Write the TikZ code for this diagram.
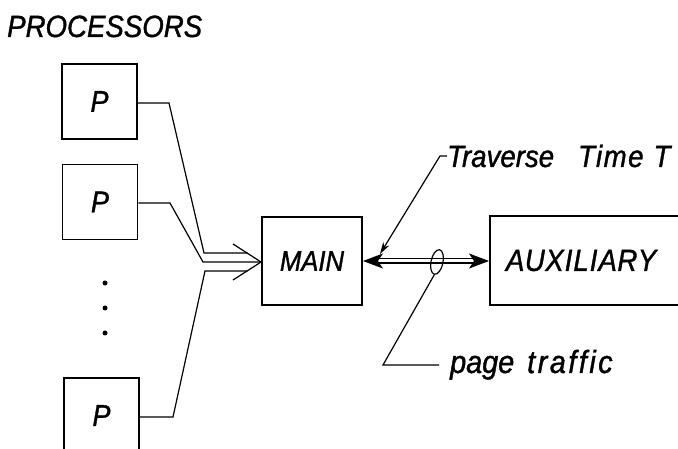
\documentclass[tikz,border=0pt]{standalone}
\usepackage{fontspec}
\setmainfont{Liberation Sans}[FakeStretch=0.9,FakeBold=1.2]
\usetikzlibrary{arrows.meta,shapes.geometric}
\tikzset{
  box/.style={draw, line width=1.9pt, inner sep=0pt, font=\itshape\fontsize{28.5}{30}\selectfont},
  pbox/.style={box, minimum width=75pt, minimum height=75pt, font=\itshape\fontsize{30}{32}\selectfont},
  conn/.style={line width=1.2pt},
  lbl/.style={inner sep=0pt, anchor=base west, font=\itshape\fontsize{30.7}{32}\selectfont},
  bigtip/.style={line width=1.4pt, -{Stealth[length=20pt,width=15pt,inset=5pt]}},
}
\begin{document}
\begin{tikzpicture}[x=1pt,y=-1pt]
\clip (0,0) rectangle (678,449);
\fill[white] (0,0) rectangle (678,449);
% title
\node[lbl] (title) at (7,37) {PROCESSORS};
% processor boxes
\node[pbox] (p1) at (99.5,101.5) {P};
\node[pbox] (p2) at (100,202) {P};
\node[pbox] (p3) at (101.5,415.5) {P};
% dots
\foreach \yy in {283,308,333}
  \fill (105,\yy) circle (2.5pt);
% main and auxiliary
\node[box, minimum width=100pt, minimum height=88pt] (main) at (312,261) {MAIN};
\node[box, anchor=west, minimum width=220pt, minimum height=89pt, text width=188pt, align=left, inner xsep=16pt, font=\itshape\fontsize{30.7}{32}\selectfont] (aux) at (489,260.5) {A\hspace{0.5pt}U\hspace{0.5pt}X\hspace{1pt}I\hspace{1pt}L\hspace{1pt}I\hspace{1pt}A\hspace{0.5pt}R\hspace{0.5pt}Y};
% corner coordinates of processor lines
\coordinate (a1) at (169,103);
\coordinate (b1) at (204,253);
\coordinate (c1) at (247.5,253);
\coordinate (a2) at (170,203);
\coordinate (b2) at (203,262);
\coordinate (a3) at (173,417);
\coordinate (b3) at (205,271);
\coordinate (c3) at (247.5,271);
\coordinate (v1) at (233,244);
\coordinate (v2) at (233,280);
\draw[conn] (p1.east |- a1) -- (a1) -- (b1) -- (c1);
\draw[conn] (p2.east |- a2) -- (a2) -- (b2) -- (main.west |- b2);
\draw[conn] (p3.east |- a3) -- (a3) -- (b3) -- (c3);
\draw[conn] (v1) -- (main.west |- b2) -- (v2);
% double line between main and aux with arrowheads
\coordinate (dl) at (376,261);
\coordinate (dr) at (474,261);
\draw[line width=1.2pt, double, double distance=3pt] (dl) -- (dr);
\draw[bigtip] (dl) -- (main.east |- dl);
\draw[bigtip] (dr) -- (aux.west |- dr);
% page traffic marker
\node[draw, ellipse, line width=1.2pt, minimum width=12pt, minimum height=25pt, inner sep=0pt, rotate=-12] (tr) at (437,262) {};
\coordinate (pt1) at (383,365);
\coordinate (pt2) at (439,365);
\draw[conn] (tr.south) -- (pt1) -- (pt2);
\node[lbl, font=\itshape\fontsize{32}{34}\selectfont] (ptl) at (450,373) {page\hspace{13pt}t\hspace{2.5pt}r\hspace{2.5pt}a\hspace{2.5pt}f\hspace{2.5pt}f\hspace{2.5pt}i\hspace{2.5pt}c};
% traverse time label
\node[lbl] (tvl) at (447,167) {Traverse\hspace{24pt}T\hspace{1pt}i\hspace{1.5pt}m\hspace{1.5pt}e\hspace{10pt}T};
\coordinate (tv1) at (447,156);
\coordinate (tv2) at (440,156);
\coordinate (tv3) at (380,254);
\draw[conn, -{Stealth[length=12pt,width=7pt]}] (tv1) -- (tv2) -- (tv3);
\end{tikzpicture}
\end{document}
